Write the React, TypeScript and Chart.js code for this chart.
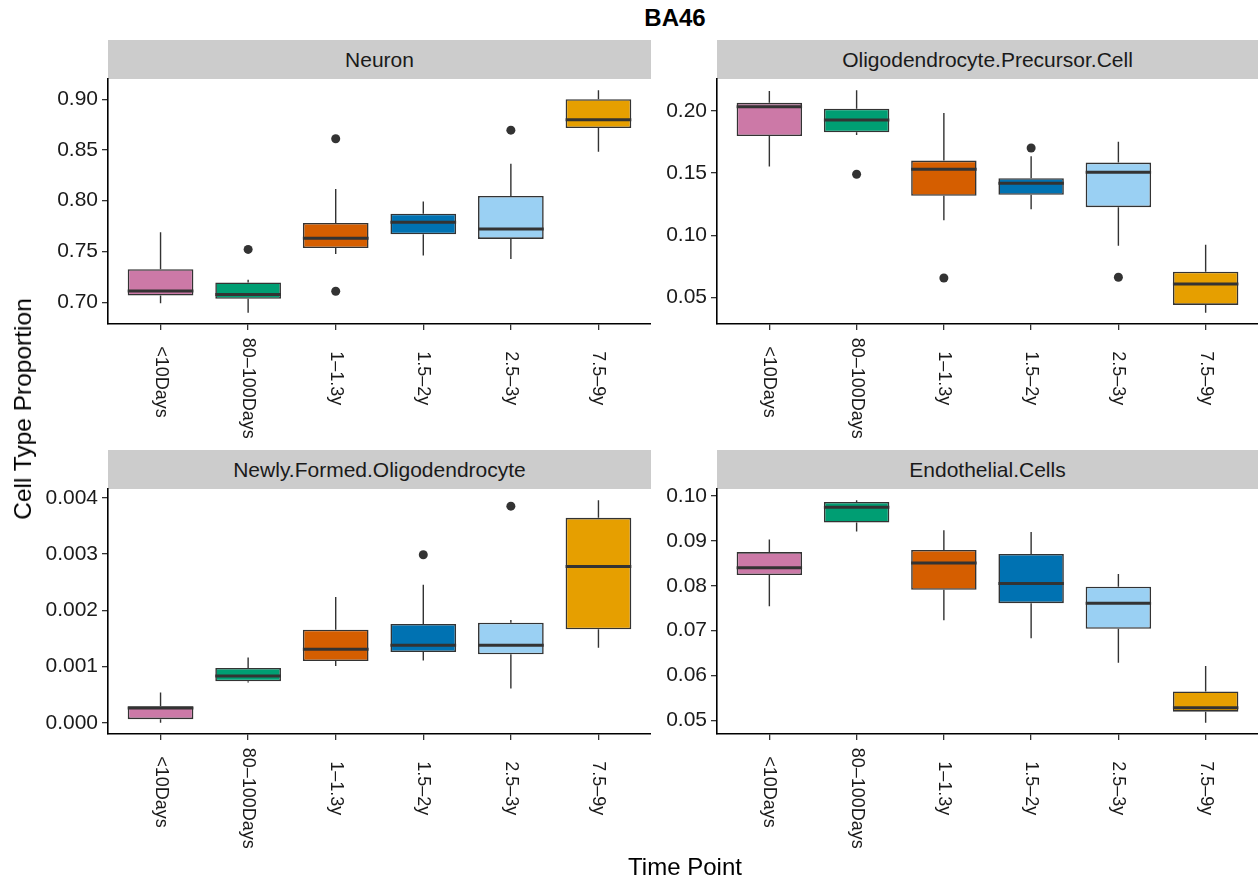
import React, { useEffect, useRef } from "react";
import { Chart, registerables } from "chart.js";
Chart.register(...registerables);

const FONT = "'Liberation Sans', Arial, Helvetica, sans-serif";
Chart.defaults.font.family = FONT;

const timePoints = ["<10Days", "80–100Days", "1–1.3y", "1.5–2y", "2.5–3y", "7.5–9y"];
const boxColors = ["#CC79A7", "#009E73", "#D55E00", "#0072B2", "#9AD0F3", "#E69F00"];

// Neuron
const neuronLow = [0.699, 0.6895, 0.7475, 0.7459, 0.7426, 0.8482];
const neuronQ1 = [0.7066, 0.7033, 0.7534, 0.7669, 0.7623, 0.8715];
const neuronMed = [0.711, 0.7076, 0.763, 0.7787, 0.7721, 0.8797];
const neuronQ3 = [0.7325, 0.7194, 0.778, 0.7872, 0.8046, 0.9];
const neuronHigh = [0.769, 0.722, 0.8115, 0.7993, 0.8364, 0.9089];
const neuronOutCat = [1, 2, 2, 4];
const neuronOutVal = [0.752, 0.861, 0.7108, 0.8695];
const neuronTicks = [0.7, 0.75, 0.8, 0.85, 0.9];

// Oligodendrocyte.Precursor.Cell
const opcLow = [0.1553, 0.1807, 0.1121, 0.121, 0.0915, 0.0374];
const opcQ1 = [0.1799, 0.1829, 0.1317, 0.1325, 0.1226, 0.0438];
const opcMed = [0.2035, 0.1928, 0.1531, 0.1419, 0.1507, 0.0607];
const opcQ3 = [0.2067, 0.2019, 0.1601, 0.1459, 0.1585, 0.0706];
const opcHigh = [0.2163, 0.2169, 0.1984, 0.1636, 0.1754, 0.0923];
const opcOutCat = [1, 2, 3, 4];
const opcOutVal = [0.1491, 0.0655, 0.1703, 0.0661];
const opcTicks = [0.05, 0.1, 0.15, 0.2];

// Newly.Formed.Oligodendrocyte
const nfoLow = [0.0, 0.000716, 0.001012, 0.001107, 0.000609, 0.001337];
const nfoQ1 = [0.000065, 0.00074, 0.0011, 0.00126, 0.001219, 0.001663];
const nfoMed = [0.000266, 0.000834, 0.001308, 0.001379, 0.001379, 0.002781];
const nfoQ3 = [0.000296, 0.000976, 0.001657, 0.001757, 0.001781, 0.003645];
const nfoHigh = [0.000538, 0.00116, 0.002237, 0.002456, 0.001828, 0.003959];
const nfoOutCat = [3, 4];
const nfoOutVal = [0.002988, 0.003852];
const nfoTicks = [0.0, 0.001, 0.002, 0.003, 0.004];

// Endothelial.Cells
const endoLow = [0.0754, 0.0921, 0.0723, 0.0683, 0.0628, 0.0494];
const endoQ1 = [0.0824, 0.0941, 0.0791, 0.0761, 0.0704, 0.0519];
const endoMed = [0.084, 0.0975, 0.0851, 0.0805, 0.0761, 0.0528];
const endoQ3 = [0.0875, 0.0987, 0.088, 0.0871, 0.0798, 0.0564];
const endoHigh = [0.0903, 0.0991, 0.0924, 0.092, 0.0826, 0.0621];
const endoOutCat: number[] = [];
const endoOutVal: number[] = [];
const endoTicks = [0.05, 0.06, 0.07, 0.08, 0.09, 0.1];

const PAD_TOP = 15;
const X_AXIS_H = 120;
const PLOT_H = 245;

type PanelProps = {
  title: string;
  low: number[];
  q1: number[];
  med: number[];
  q3: number[];
  high: number[];
  outCat: number[];
  outVal: number[];
  ticks: number[];
  decimals: number;
  left: number;
  plotLeft: number;
  plotRight: number;
  plotTop: number;
};

function Panel(p: PanelProps) {
  const ref = useRef<HTMLCanvasElement | null>(null);
  const width = p.plotRight - p.left;
  const height = PAD_TOP + PLOT_H + X_AXIS_H;
  const axisW = p.plotLeft - p.left;

  useEffect(() => {
    if (!ref.current) return;
    const all = [...p.low, ...p.high, ...p.outVal];
    const dMin = Math.min(...all);
    const dMax = Math.max(...all);
    const pad = (dMax - dMin) * 0.05;

    const boxPlugin = {
      id: "boxParts",
      beforeDatasetsDraw(chart: any) {
        const ctx = chart.ctx;
        const xs = chart.scales.x;
        const ys = chart.scales.y;
        ctx.save();
        ctx.strokeStyle = "#333333";
        ctx.lineWidth = 1.4;
        p.low.forEach((lo, i) => {
          const x = xs.getPixelForValue(i);
          ctx.beginPath();
          ctx.moveTo(x, ys.getPixelForValue(lo));
          ctx.lineTo(x, ys.getPixelForValue(p.q1[i]));
          ctx.moveTo(x, ys.getPixelForValue(p.q3[i]));
          ctx.lineTo(x, ys.getPixelForValue(p.high[i]));
          ctx.stroke();
        });
        ctx.restore();
      },
      afterDatasetsDraw(chart: any) {
        const ctx = chart.ctx;
        const ys = chart.scales.y;
        const meta = chart.getDatasetMeta(0);
        ctx.save();
        ctx.strokeStyle = "#333333";
        ctx.lineWidth = 3;
        meta.data.forEach((el: any, i: number) => {
          const y = ys.getPixelForValue(p.med[i]);
          ctx.beginPath();
          ctx.moveTo(el.x - el.width / 2, y);
          ctx.lineTo(el.x + el.width / 2, y);
          ctx.stroke();
        });
        ctx.restore();
      },
    };

    const labelPlugin = {
      id: "rotLabels",
      afterDraw(chart: any) {
        const ctx = chart.ctx;
        const xs = chart.scales.x;
        const bottom = chart.chartArea.bottom;
        ctx.save();
        ctx.font = `18px ${FONT}`;
        ctx.fillStyle = "#1a1a1a";
        ctx.textAlign = "left";
        ctx.textBaseline = "middle";
        timePoints.forEach((lab, i) => {
          const x = xs.getPixelForValue(i);
          const w = ctx.measureText(lab).width;
          const y0 = bottom + 43 - 0.29 * w;
          ctx.save();
          ctx.translate(x, y0);
          ctx.rotate(Math.PI / 2);
          ctx.fillText(lab, 0, 0);
          ctx.restore();
        });
        ctx.restore();
      },
    };

    const chart = new Chart(ref.current, {
      type: "bar",
      data: {
        datasets: [
          {
            type: "bar",
            data: p.q1.map((v, i) => ({ x: i, y: [v, p.q3[i]] })) as any,
            backgroundColor: boxColors,
            borderColor: "#333333",
            borderWidth: 1.6,
            borderSkipped: false,
            categoryPercentage: 1,
            barPercentage: 0.75,
            order: 2,
          } as any,
          {
            type: "scatter",
            data: p.outCat.map((c, k) => ({ x: c, y: p.outVal[k] })),
            pointRadius: 4.5,
            pointBackgroundColor: "#333333",
            pointBorderWidth: 0,
            order: 1,
          } as any,
        ],
      },
      options: {
        responsive: false,
        animation: false,
        layout: { autoPadding: false, padding: { top: PAD_TOP, left: 0, right: 0, bottom: 0 } },
        plugins: { legend: { display: false }, tooltip: { enabled: false } },
        scales: {
          x: {
            type: "linear",
            min: -0.6,
            max: timePoints.length - 0.4,
            offset: false,
            afterBuildTicks: (s: any) => {
              s.ticks = timePoints.map((_, i) => ({ value: i }));
            },
            ticks: { display: false },
            grid: {
              offset: false,
              drawOnChartArea: false,
              drawTicks: true,
              tickLength: 6,
              color: "#333333",
              lineWidth: 1.3,
            },
            border: { display: true, color: "#000000", width: 1.6 },
            afterFit: (s: any) => {
              s.height = X_AXIS_H;
              s.paddingLeft = 0;
              s.paddingRight = 0;
            },
          },
          y: {
            type: "linear",
            min: dMin - pad,
            max: dMax + pad,
            afterBuildTicks: (s: any) => {
              s.ticks = p.ticks.map((v) => ({ value: v }));
            },
            ticks: {
              callback: (v: any) => Number(v).toFixed(p.decimals),
              font: { size: 21 },
              color: "#1a1a1a",
              padding: 4,
            },
            grid: {
              drawOnChartArea: false,
              drawTicks: true,
              tickLength: 6,
              color: "#333333",
              lineWidth: 1.3,
            },
            border: { display: true, color: "#000000", width: 1.6 },
            afterFit: (s: any) => {
              s.width = axisW;
              s.paddingTop = 0;
              s.paddingBottom = 0;
            },
          },
        },
      } as any,
      plugins: [boxPlugin, labelPlugin],
    });
    return () => chart.destroy();
  }, []);

  return (
    <>
      <div
        style={{
          position: "absolute",
          left: p.plotLeft,
          top: p.plotTop - 39,
          width: p.plotRight - p.plotLeft,
          height: 39,
          background: "#CCCCCC",
          color: "#1a1a1a",
          fontFamily: FONT,
          fontSize: 21,
          lineHeight: "40px",
          textAlign: "center",
          whiteSpace: "nowrap",
        }}
      >
        {p.title}
      </div>
      <canvas
        ref={ref}
        width={width}
        height={height}
        style={{
          position: "absolute",
          left: p.left,
          top: p.plotTop - PAD_TOP,
          width,
          height,
        }}
      />
    </>
  );
}

export default function App() {
  return (
    <div
      style={{
        position: "fixed",
        left: 0,
        top: 0,
        width: 1258,
        height: 882,
        background: "#ffffff",
        overflow: "hidden",
        fontFamily: FONT,
      }}
    >
      <div
        style={{
          position: "absolute",
          left: 675,
          top: 6,
          transform: "translateX(-50%)",
          fontSize: 24,
          lineHeight: "24px",
          fontWeight: "bold",
          color: "#000",
          whiteSpace: "nowrap",
        }}
      >
        BA46
      </div>
      <Panel
        title="Neuron"
        low={neuronLow}
        q1={neuronQ1}
        med={neuronMed}
        q3={neuronQ3}
        high={neuronHigh}
        outCat={neuronOutCat}
        outVal={neuronOutVal}
        ticks={neuronTicks}
        decimals={2}
        left={20}
        plotLeft={108}
        plotRight={651}
        plotTop={79}
      />
      <Panel
        title="Oligodendrocyte.Precursor.Cell"
        low={opcLow}
        q1={opcQ1}
        med={opcMed}
        q3={opcQ3}
        high={opcHigh}
        outCat={opcOutCat}
        outVal={opcOutVal}
        ticks={opcTicks}
        decimals={2}
        left={650}
        plotLeft={717}
        plotRight={1258}
        plotTop={79}
      />
      <Panel
        title="Newly.Formed.Oligodendrocyte"
        low={nfoLow}
        q1={nfoQ1}
        med={nfoMed}
        q3={nfoQ3}
        high={nfoHigh}
        outCat={nfoOutCat}
        outVal={nfoOutVal}
        ticks={nfoTicks}
        decimals={3}
        left={20}
        plotLeft={108}
        plotRight={651}
        plotTop={489}
      />
      <Panel
        title="Endothelial.Cells"
        low={endoLow}
        q1={endoQ1}
        med={endoMed}
        q3={endoQ3}
        high={endoHigh}
        outCat={endoOutCat}
        outVal={endoOutVal}
        ticks={endoTicks}
        decimals={2}
        left={650}
        plotLeft={717}
        plotRight={1258}
        plotTop={489}
      />
      <div
        style={{
          position: "absolute",
          left: 23,
          top: 409,
          transform: "translate(-50%, -50%) rotate(-90deg)",
          fontSize: 24.5,
          lineHeight: "24px",
          color: "#000",
          whiteSpace: "nowrap",
        }}
      >
        Cell Type Proportion
      </div>
      <div
        style={{
          position: "absolute",
          left: 685,
          top: 855,
          transform: "translateX(-50%)",
          fontSize: 24,
          lineHeight: "24px",
          color: "#000",
          whiteSpace: "nowrap",
        }}
      >
        Time Point
      </div>
    </div>
  );
}
